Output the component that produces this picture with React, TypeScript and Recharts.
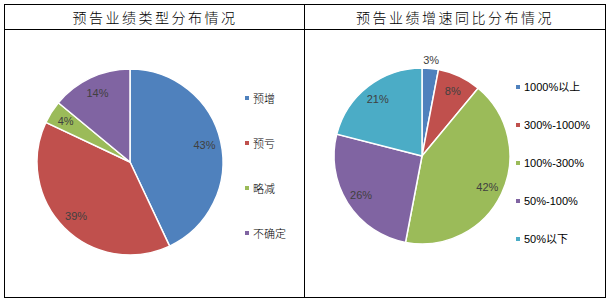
import React from "react";
import { PieChart, Pie, Cell, Legend } from "recharts";

const leftTitle = "预告业绩类型分布情况";
const leftNames = ["预增", "预亏", "略减", "不确定"];
const leftValues = [43, 39, 4, 14];
const leftColors = ["#4F81BD", "#C0504D", "#9BBB59", "#8064A2"];

const rightTitle = "预告业绩增速同比分布情况";
const rightNames = ["1000%以上", "300%-1000%", "100%-300%", "50%-100%", "50%以下"];
const rightValues = [3, 8, 42, 26, 21];
const rightColors = ["#4F81BD", "#C0504D", "#9BBB59", "#8064A2", "#4BACC6"];

const leftData = leftNames.map((name, i) => ({ name, value: leftValues[i] }));
const rightData = rightNames.map((name, i) => ({ name, value: rightValues[i] }));

const RADIAN = Math.PI / 180;

const makeLabel = (outsideSmall: boolean) => (props: any) => {
  const { cx, cy, midAngle, outerRadius, value } = props;
  let f = 0.82;
  if (outsideSmall && value < 5) f = 1.1;
  const r = outerRadius * f;
  const x = cx + r * Math.cos(-midAngle * RADIAN);
  const y = cy + r * Math.sin(-midAngle * RADIAN);
  return (
    <text
      x={x}
      y={y}
      fill="#404040"
      fontSize={11}
      fontFamily="'Liberation Sans', Arial, sans-serif"
      textAnchor="middle"
      dominantBaseline="central"
    >
      {`${value}%`}
    </text>
  );
};

const makeLegend = (names: string[], colors: string[], spacing: number, font: string, weight: number) => () => (
  <div style={{ position: "relative" }}>
    {names.map((n, i) => (
      <div
        key={n}
        style={{
          position: "absolute",
          left: 0,
          top: i * spacing,
          height: 14,
          display: "flex",
          alignItems: "center",
          whiteSpace: "nowrap",
        }}
      >
        <span style={{ width: 4, height: 4, background: colors[i], display: "inline-block", marginRight: 4 }} />
        <span style={{ fontSize: 11, color: "#000", fontFamily: font, fontWeight: weight, lineHeight: "14px" }}>{n}</span>
      </div>
    ))}
  </div>
);

const titleStyle: React.CSSProperties = {
  position: "absolute",
  top: 0,
  height: 25,
  lineHeight: "25px",
  textAlign: "center",
  fontSize: 14,
  letterSpacing: 2.5,
  fontFamily: "'Noto Sans CJK SC', sans-serif",
  fontWeight: 300,
  color: "#000",
};

export default function App() {
  return (
    <div style={{ position: "absolute", left: 0, top: 0, width: 609, height: 302, background: "#fff" }}>
      <div
        style={{
          position: "absolute",
          left: 4,
          top: 4,
          width: 600,
          height: 292,
          border: "1px solid #000",
        }}
      >
        <div style={{ ...titleStyle, left: 0, width: 300 }}>{leftTitle}</div>
        <div style={{ ...titleStyle, left: 300, width: 300 }}>{rightTitle}</div>
        <div style={{ position: "absolute", left: 0, top: 24, width: 600, height: 1, background: "#000" }} />
        <div style={{ position: "absolute", left: 299, top: 0, width: 1, height: 292, background: "#000" }} />
        <div style={{ position: "absolute", left: 0, top: 25, width: 299, height: 267 }}>
          <PieChart width={299} height={267} margin={{ top: 0, right: 0, bottom: 0, left: 0 }}>
            <Pie
              data={leftData}
              dataKey="value"
              nameKey="name"
              cx={125}
              cy={132}
              outerRadius={93}
              startAngle={90}
              endAngle={-270}
              stroke="#fff"
              strokeWidth={1.5}
              label={makeLabel(false)}
              labelLine={false}
              isAnimationActive={false}
            >
              {leftData.map((d, i) => (
                <Cell key={d.name} fill={leftColors[i]} />
              ))}
            </Pie>
            <Legend
              layout="vertical"
              verticalAlign="middle"
              align="right"
              wrapperStyle={{ position: "absolute", left: 240, top: 61, width: 50, right: "auto", bottom: "auto" }}
              content={makeLegend(leftNames, leftColors, 45, "'Noto Sans CJK SC', sans-serif", 300)}
            />
          </PieChart>
        </div>
        <div style={{ position: "absolute", left: 300, top: 25, width: 300, height: 267 }}>
          <PieChart width={300} height={267} margin={{ top: 0, right: 0, bottom: 0, left: 0 }}>
            <Pie
              data={rightData}
              dataKey="value"
              nameKey="name"
              cx={117}
              cy={126}
              outerRadius={88}
              startAngle={90}
              endAngle={-270}
              stroke="#fff"
              strokeWidth={1.5}
              label={makeLabel(true)}
              labelLine={false}
              isAnimationActive={false}
            >
              {rightData.map((d, i) => (
                <Cell key={d.name} fill={rightColors[i]} />
              ))}
            </Pie>
            <Legend
              layout="vertical"
              verticalAlign="middle"
              align="right"
              wrapperStyle={{ position: "absolute", left: 211, top: 50, width: 85, right: "auto", bottom: "auto" }}
              content={makeLegend(rightNames, rightColors, 38, "'Liberation Sans', 'Noto Sans CJK SC', sans-serif", 400)}
            />
          </PieChart>
        </div>
      </div>
    </div>
  );
}
